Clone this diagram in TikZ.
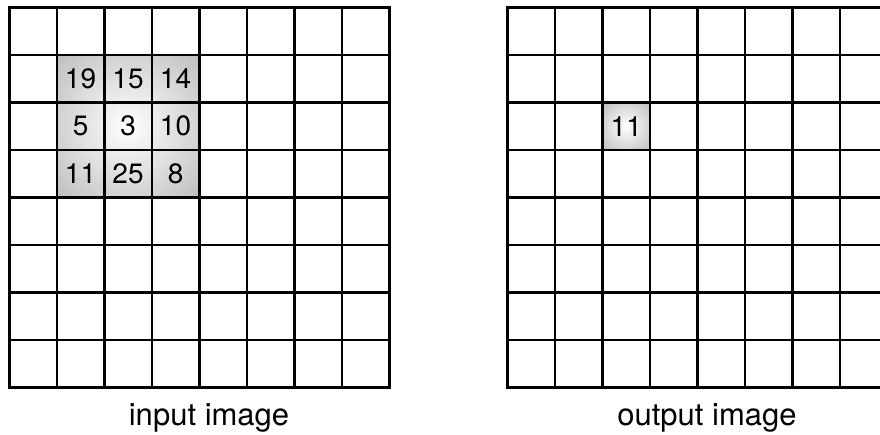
\documentclass[tikz,border=0pt]{standalone}
\usepackage{fontspec}
\setmainfont{TeX Gyre Heros}
\pgfdeclareradialshading{cellshade}{\pgfpoint{0bp}{0bp}}{color(0bp)=(white); color(35bp)=(black!25); color(50bp)=(black!25)}
\begin{document}
\begin{tikzpicture}[x=1pt,y=-1pt,
  gridline/.style={line width=2.6pt, line cap=rect},
  num/.style={font=\fontsize{28}{28}\selectfont, inner sep=0pt},
  lbl/.style={font=\fontsize{31}{31}\selectfont, inner sep=0pt, anchor=base}]
\useasboundingbox (0,0) rectangle (880,435);
\clip (0,0) rectangle (880,435);
% shaded regions
\shade[shading=cellshade] (56.8,55) rectangle (199.3,197.5);
\shade[shading=cellshade] (602.5,102.5) rectangle (650,150);
% grids
\foreach \ox in {9.3,507.5}{
  \foreach \i in {0,...,8}{
    \draw[gridline] ({\ox+47.5*\i},7.5) -- ({\ox+47.5*\i},387.5);
    \draw[gridline] (\ox,{7.5+47.5*\i}) -- ({\ox+380},{7.5+47.5*\i});
  }
}
% numbers in input
\foreach \v/\c/\r/\n in {19/1/1/a, 15/2/1/b, 14/3/1/c, 5/1/2/d, 3/2/2/e, 10/3/2/f, 11/1/3/g, 25/2/3/h, 8/3/3/i}{
  \node[num] (in\n) at ({9.3+47.5*(\c+0.5)},{7.5+47.5*(\r+0.5)}) {\v};
}
\node[num] (out) at ({507.5+47.5*2.5},{7.5+47.5*2.5}) {11};
% labels
\node[lbl] (inlbl) at (209,425) {input image};
\node[lbl] (outlbl) at (707,425) {output image};
\end{tikzpicture}
\end{document}
